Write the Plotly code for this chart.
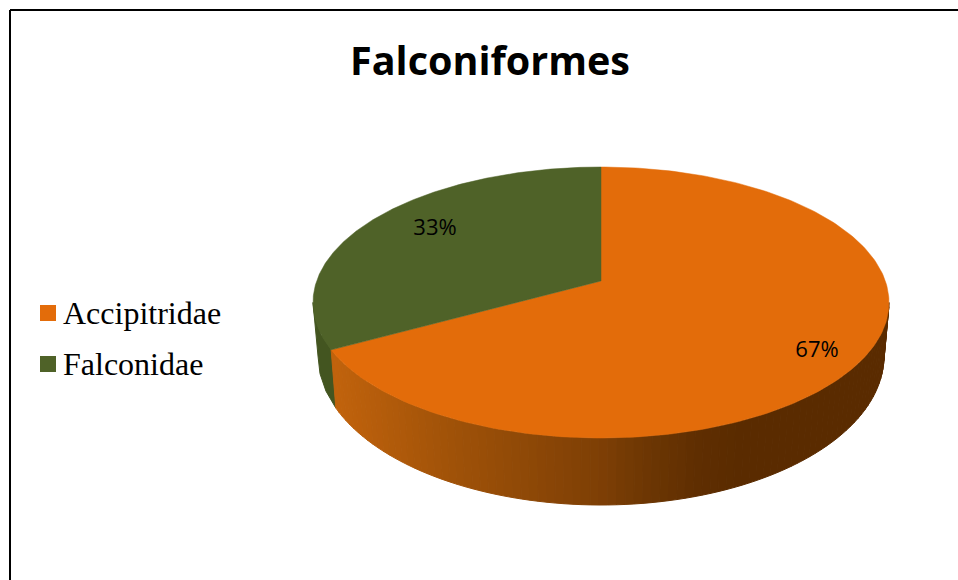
import math
import plotly.graph_objects as go

# ---- data ----
categories = ["Accipitridae", "Falconidae"]
values = [67, 33]
title_text = "Falconiformes"

# ---- style ----
W, H = 958, 580
TOP_C = (601.0, 302.5)
TOP_R = (288.0, 135.5)
BOT_C = (601.0, 356.0)
BOT_R = (283.0, 149.0)
K = 0.159  # perspective shift of the pie's hub inside the ellipse
slice_colors = {"Accipitridae": "#E36C0A", "Falconidae": "#4F6228"}
wall_green = "#435520"
wall_stops = [(338, (192, 98, 12)), (450, (160, 82, 8)), (600, (126, 63, 5)),
              (650, (108, 54, 3)), (700, (95, 46, 1)), (740, (90, 43, 0)), (889, (90, 43, 0))]
label_xy = {"Accipitridae": (817, 351), "Falconidae": (435, 229)}
legend_xy = {"Accipitridae": (48, 313), "Falconidae": (48, 364)}
legend_text_xy = {"Accipitridae": (63, 316), "Falconidae": (63, 367)}


def project(a):
    """Angle in radians, clockwise from 12 o'clock, on the tilted disc -> ellipse parameter."""
    u, v = math.sin(a), math.cos(a)
    w = 1 + K * v
    return u * math.sqrt(1 - K * K) / w, (v + K) / w


def to_px(X, Y, c, r):
    return c[0] + X * r[0], c[1] - Y * r[1]


def wall_color(x):
    if x <= wall_stops[0][0]:
        return "rgb(%d,%d,%d)" % wall_stops[0][1]
    for (x0, c0), (x1, c1) in zip(wall_stops, wall_stops[1:]):
        if x <= x1:
            t = (x - x0) / (x1 - x0)
            return "rgb(%d,%d,%d)" % tuple(round(p + (q - p) * t) for p, q in zip(c0, c1))
    return "rgb(%d,%d,%d)" % wall_stops[-1][1]


total = sum(values)
# Falconidae runs counter-clockwise from 12 o'clock, Accipitridae clockwise
split = 2 * math.pi * values[0] / total
sx, sy = project(split)
phi_split = math.atan2(sy, sx) % (2 * math.pi)  # ellipse parameter of the slice boundary

fig = go.Figure()


def wall_quad(p0, p1, color):
    xs, ys = [], []
    n = 3
    pts = [p0 + (p1 - p0) * i / n for i in range(n + 1)]
    for p in pts:
        x, y = to_px(math.cos(p), math.sin(p), TOP_C, TOP_R)
        xs.append(x); ys.append(y)
    for p in reversed(pts):
        x, y = to_px(math.cos(p), math.sin(p), BOT_C, BOT_R)
        xs.append(x); ys.append(y)
    fig.add_trace(go.Scatter(x=xs + xs[:1], y=ys + ys[:1], mode="lines", fill="toself",
                             fillcolor=color, line=dict(color=color, width=1),
                             hoverinfo="skip", showlegend=False))


# side wall: green part, then orange strips coloured by horizontal position
wall_quad(math.pi, phi_split, wall_green)
STRIPS = 90
for i in range(STRIPS):
    p0 = phi_split + (2 * math.pi - phi_split) * i / STRIPS
    p1 = phi_split + (2 * math.pi - phi_split) * (i + 1) / STRIPS
    xm = to_px(math.cos((p0 + p1) / 2), 0, TOP_C, TOP_R)[0]
    wall_quad(p0, p1, wall_color(xm))

# top face
hub = to_px(0, K, TOP_C, TOP_R)
spans = {"Accipitridae": (0, split), "Falconidae": (split, 2 * math.pi)}
for name in categories:
    a0, a1 = spans[name]
    n = 240
    xs, ys = [hub[0]], [hub[1]]
    for i in range(n + 1):
        X, Y = project(a0 + (a1 - a0) * i / n)
        x, y = to_px(X, Y, TOP_C, TOP_R)
        xs.append(x); ys.append(y)
    xs.append(hub[0]); ys.append(hub[1])
    fig.add_trace(go.Scatter(x=xs, y=ys, mode="lines", fill="toself",
                             fillcolor=slice_colors[name],
                             line=dict(color=slice_colors[name], width=0.5),
                             name=name, showlegend=False, hoverinfo="name"))

# percentage labels
for name, val in zip(categories, values):
    lx, ly = label_xy[name]
    fig.add_trace(go.Scatter(x=[lx], y=[ly], mode="text", text=["%d%%" % round(100 * val / total)],
                             textposition="middle center",
                             textfont=dict(family="Open Sans", size=22, color="#000000"),
                             showlegend=False, hoverinfo="skip"))

# legend entries
for name in categories:
    gx, gy = legend_xy[name]
    tx, ty = legend_text_xy[name]
    fig.add_trace(go.Scatter(x=[gx], y=[gy], mode="markers", name=name, showlegend=False, hoverinfo="name",
                             marker=dict(symbol="square", size=16, color=slice_colors[name],
                                         line=dict(width=0))))
    fig.add_trace(go.Scatter(x=[tx], y=[ty], mode="text", text=[name], textposition="middle right",
                             textfont=dict(family="Liberation Serif", size=32, color="#000000"),
                             showlegend=False, hoverinfo="skip"))

fig.update_layout(
    width=W, height=H, autosize=False,
    margin=dict(l=0, r=0, t=0, b=0),
    paper_bgcolor="#FFFFFF", plot_bgcolor="#FFFFFF",
    xaxis=dict(range=[0, W], visible=False, fixedrange=True),
    yaxis=dict(range=[H, 0], visible=False, fixedrange=True),
    title=dict(text="<b>%s</b>" % title_text, x=490 / W, xanchor="center", y=1 - 61 / H, yanchor="middle",
               font=dict(family="Open Sans", size=39.5, color="#000000")),
    showlegend=False,
    shapes=[
        dict(type="line", xref="paper", yref="paper", x0=10 / W, x1=1, y0=1 - 10 / H, y1=1 - 10 / H,
             line=dict(color="#000000", width=2)),
        dict(type="line", xref="paper", yref="paper", x0=10 / W, x1=10 / W, y0=0, y1=1 - 10 / H,
             line=dict(color="#000000", width=2)),
    ],
)

fig.write_html("out.html", config=dict(displayModeBar=False),
               post_script="document.body.style.margin='0';document.body.style.overflow='hidden';")
